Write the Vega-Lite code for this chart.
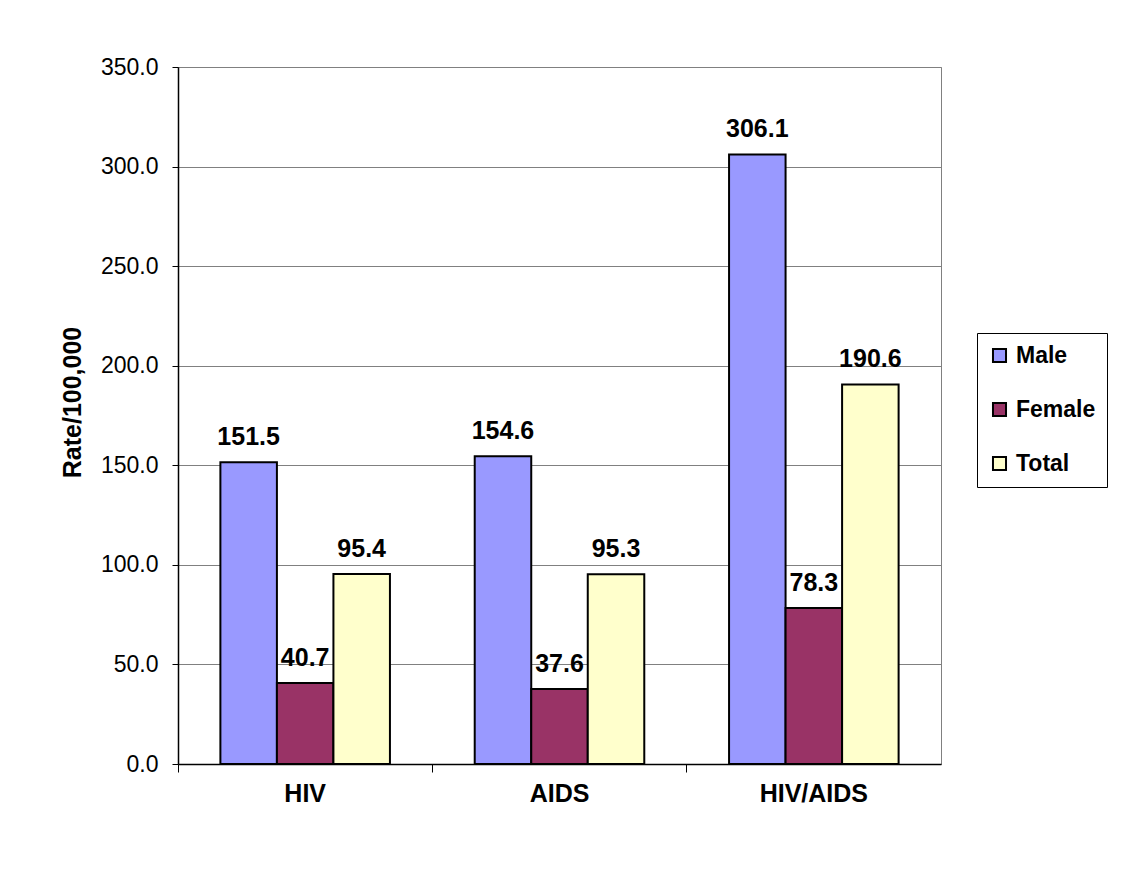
{
  "$schema": "https://vega.github.io/schema/vega-lite/v6.json",
  "width": 763,
  "height": 697,
  "autosize": {"type": "none"},
  "padding": {"left": 178, "top": 67, "right": 187, "bottom": 111},
  "background": "white",
  "config": {
    "font": "Liberation Sans",
    "view": {"stroke": "#808080", "strokeWidth": 1}
  },
  "data": {
    "values": [
      {"category": "HIV", "group": "Male", "rate": 151.5},
      {"category": "HIV", "group": "Female", "rate": 40.7},
      {"category": "HIV", "group": "Total", "rate": 95.4},
      {"category": "AIDS", "group": "Male", "rate": 154.6},
      {"category": "AIDS", "group": "Female", "rate": 37.6},
      {"category": "AIDS", "group": "Total", "rate": 95.3},
      {"category": "HIV/AIDS", "group": "Male", "rate": 306.1},
      {"category": "HIV/AIDS", "group": "Female", "rate": 78.3},
      {"category": "HIV/AIDS", "group": "Total", "rate": 190.6}
    ]
  },
  "encoding": {
    "x": {
      "field": "category",
      "type": "nominal",
      "sort": ["HIV", "AIDS", "HIV/AIDS"],
      "scale": {"paddingInner": 0, "paddingOuter": 0},
      "axis": {
        "title": null,
        "labelAngle": 0,
        "labelFontSize": 25,
        "labelFontWeight": "bold",
        "labelColor": "black",
        "labelPadding": 9,
        "bandPosition": 0,
        "tickSize": 8,
        "tickColor": "black",
        "domainColor": "black",
        "domainWidth": 1.5,
        "grid": false
      }
    },
    "xOffset": {
      "field": "group",
      "type": "nominal",
      "sort": ["Male", "Female", "Total"],
      "scale": {"paddingInner": 0, "paddingOuter": 0.75}
    },
    "y": {
      "field": "rate",
      "type": "quantitative",
      "scale": {"domain": [0, 350], "nice": false},
      "axis": {
        "title": "Rate/100,000",
        "titleFontSize": 25,
        "titleFontWeight": "bold",
        "titleColor": "black",
        "titleAngle": -90,
        "titleX": -106,
        "titleY": 335,
        "titleAlign": "center",
        "titleBaseline": "middle",
        "values": [0, 50, 100, 150, 200, 250, 300, 350],
        "format": ".1f",
        "labelFontSize": 23,
        "labelColor": "black",
        "labelPadding": 14,
        "tickSize": 6,
        "tickColor": "black",
        "domainColor": "black",
        "domainWidth": 1.5,
        "gridColor": "#808080",
        "gridWidth": 1
      }
    }
  },
  "layer": [
    {
      "mark": {"type": "bar", "stroke": "black", "strokeWidth": 2},
      "encoding": {
        "fill": {
          "field": "group",
          "type": "nominal",
          "sort": ["Male", "Female", "Total"],
          "scale": {"domain": ["Male", "Female", "Total"], "range": ["#9999FF", "#993366", "#FFFFCC"]},
          "legend": {
            "title": null,
            "orient": "none",
            "legendX": 799,
            "legendY": 266,
            "direction": "vertical",
            "labelFontSize": 23,
            "labelFontWeight": "bold",
            "labelColor": "black",
            "labelOffset": 5,
            "symbolType": "square",
            "symbolSize": 170,
            "symbolStrokeColor": "black",
            "symbolStrokeWidth": 2,
            "rowPadding": 30,
            "padding": 11,
            "strokeColor": "black",
            "fillColor": "white"
          }
        }
      }
    },
    {
      "mark": {"type": "text", "fontSize": 25, "fontWeight": "bold", "color": "black", "baseline": "alphabetic", "dy": -17},
      "encoding": {
        "text": {"field": "rate", "type": "quantitative", "format": ".1f"}
      }
    }
  ]
}
